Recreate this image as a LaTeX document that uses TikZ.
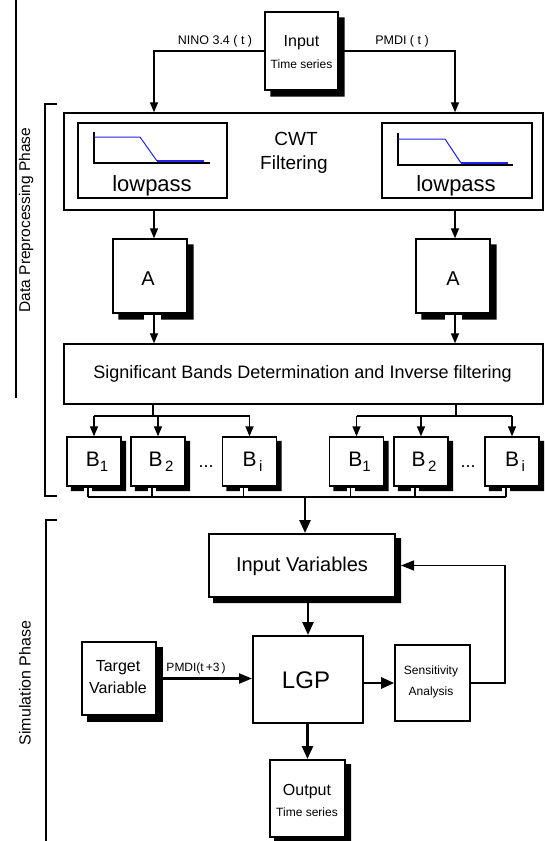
\documentclass[tikz,border=0pt]{standalone}
\usepackage{fontspec}
\setmainfont{Liberation Sans}
\usetikzlibrary{arrows.meta,calc}
\definecolor{lpblue}{RGB}{35,35,235}
% solid offset shadow on the right and lower side of a named node
\newcommand{\boxshadow}[2]{%
  \fill ($(#1.north east)+(-0.6,#2)$) -- ($(#1.north east)+(#2,#2)$)
    -- ($(#1.south east)+(#2,#2)$) -- ($(#1.south west)+(#2,#2)$)
    -- ($(#1.south west)+(#2,-0.6)$) -- ($(#1.south east)+(-0.6,-0.6)$) -- cycle;}
\begin{document}
\begin{tikzpicture}[x=1pt,y=-1pt,
  box/.style={draw, line width=1.4pt, fill=white, inner sep=0pt},
  lbl/.style={anchor=base, inner sep=0pt},
  fs/.style={font=\fontsize{#1}{#1}\selectfont},
  link/.style={line width=1.3pt},
  arr/.style={line width=1.3pt, -{Triangle[length=10pt,width=8pt]}},
  bigarr/.style={line width=2.6pt, -{Triangle[length=13pt,width=11pt]}},
  bstyle/.style={box, line width=1.3pt, minimum width=54pt, minimum height=49pt},
]
\useasboundingbox (0,0) rectangle (544,841);

% ---------- phase markers ----------
\draw[line width=1.3pt] (16,0) -- (16,398);
\node[fs=15.5, rotate=90] (phase1) at (26,220) {Data Preprocessing Phase};
\draw[line width=1.4pt] (57,104) -- (45,104) -- (45,496) -- (57,496);
\draw[line width=1.4pt] (57,520) -- (46,520) -- (46,841);
\node[fs=16, rotate=90] (phase2) at (25,683) {Simulation Phase};

% ---------- input time series ----------
\node[box, minimum width=73pt, minimum height=78pt] (inp) at (301.5,51) {};
\boxshadow{inp}{6}
\node[lbl, fs=16] (inpA) at (301.5,46) {Input};
\node[lbl, fs=12] (inpB) at (301.5,68) {Time series};

% ---------- CWT filtering ----------
\node[box, minimum width=479pt, minimum height=97pt] (cwt) at (303.5,161.5) {};
\node[box, minimum width=149pt, minimum height=75pt] (lpL) at (152.5,160.5) {};
\node[box, minimum width=150pt, minimum height=75pt] (lpR) at (457,160.5) {};
\node[lbl, fs=19] (cwtA) at (296,145) {CWT};
\node[lbl, fs=19] (cwtB) at (294,169) {Filtering};
\node[lbl, fs=22] (lpLt) at (152,191) {lowpass};
\node[lbl, fs=22] (lpRt) at (456,191) {lowpass};

% lowpass response sketches
\draw[line width=1.2pt] (94,132) -- (94,163) -- (210,163);
\draw[lpblue, line width=1pt] (94,137) -- (140,137) -- (157,161);
\draw[lpblue, line width=2pt] (157,161) -- (204,161);
\draw[line width=1.2pt] (398,133) -- (398,165) -- (513,165);
\draw[lpblue, line width=1pt] (398,139) -- (445,139) -- (461,163);
\draw[lpblue, line width=2pt] (461,163) -- (508,163);

% ---------- A blocks ----------
\node[box, minimum width=74pt, minimum height=74pt] (aL) at (150,276) {};
\node[box, minimum width=74pt, minimum height=74pt] (aR) at (453,276) {};
\boxshadow{aL}{6}
\boxshadow{aR}{6}
\node[lbl, fs=20] (aLt) at (148,285) {A};
\node[lbl, fs=20] (aRt) at (453,285) {A};

% ---------- band determination ----------
\node[box, minimum width=479pt, minimum height=60pt] (sig) at (303.5,374) {};
\node[lbl, fs=18] (sigt) at (302.5,378) {Significant Bands Determination and Inverse filtering};

% ---------- B blocks ----------
\node[bstyle] (bL1) at (94,461.5) {};
\node[bstyle] (bL2) at (158,461.5) {};
\node[bstyle] (bLi) at (249.5,461.5) {};
\node[bstyle] (bR1) at (356.5,461.5) {};
\node[bstyle] (bR2) at (421,461.5) {};
\node[bstyle] (bRi) at (512,461.5) {};
\foreach \b in {bL1,bL2,bLi,bR1,bR2,bRi} {\boxshadow{\b}{4.5}}
\foreach \b/\s/\g in {bL1/1/0pt, bL2/2/2.5pt, bLi/i/2.5pt, bR1/1/0pt, bR2/2/2.5pt, bRi/i/2.5pt}
  \node[lbl, fs=21] (\b t) at ($(\b.center)+(3,5)$)
    {B\kern\g\raisebox{-5pt}{\fontsize{15}{15}\selectfont \s}};
\node[lbl, fs=18] (dotsL) at (206,467) {...};
\node[lbl, fs=18] (dotsR) at (468,467) {...};

% ---------- simulation phase ----------
\node[box, line width=2pt, minimum width=186pt, minimum height=63pt] (iv) at (302,565.5) {};
\boxshadow{iv}{5}
\node[lbl, fs=20] (ivt) at (302,571) {Input Variables};

\node[box, line width=2pt, minimum width=110pt, minimum height=87pt] (lgp) at (308,679.5) {};
\node[lbl, fs=24] (lgpt) at (306,688) {LGP};

\node[box, line width=1.6pt, minimum width=74pt, minimum height=73pt] (tgt) at (119,678.5) {};
\boxshadow{tgt}{6}
\node[lbl, fs=16] (tgtA) at (118,671) {Target};
\node[lbl, fs=16] (tgtB) at (118,693) {Variable};

\node[box, line width=1.6pt, minimum width=75pt, minimum height=76pt] (sens) at (432.5,683) {};
\node[lbl, fs=12] (sensA) at (431,674) {Sensitivity};
\node[lbl, fs=12] (sensB) at (431,695) {Analysis};

\node[box, line width=2pt, minimum width=75pt, minimum height=77pt] (outp) at (307.5,798.5) {};
\boxshadow{outp}{5}
\node[lbl, fs=16] (outA) at (307,795) {Output};
\node[lbl, fs=12] (outB) at (307,816) {Time series};

% ---------- connectors: preprocessing ----------
\coordinate (lx) at (154,0);
\coordinate (rx) at (455,0);
\draw[arr] (inp.west) -| (lx |- cwt.north);
\draw[arr] (inp.east) -| (rx |- cwt.north);
\node[lbl, fs=12.5] (ninolbl) at (215,44.5) {NINO 3.4 ( t )};
\node[lbl, fs=12.5] (pmdilbl) at (402,44.5) {PMDI ( t )};

\draw[arr] (lx |- cwt.south) -- (lx |- aL.north);
\draw[arr] (rx |- cwt.south) -- (rx |- aR.north);
\fill[white] ($(lx |- aL.south)+(-10,1)$) rectangle ($(lx |- aL.south)+(7,9)$);
\fill[white] ($(rx |- aR.south)+(-10,1)$) rectangle ($(rx |- aR.south)+(7,9)$);
\draw[arr] (lx |- aL.south) -- (lx |- sig.north);
\draw[arr] (rx |- aR.south) -- (rx |- sig.north);

\coordinate (bry) at (0,416);
\coordinate (lsx) at (153,0);
\coordinate (rsx) at (456,0);
\draw[link] (lsx |- sig.south) -- (lsx |- bry);
\draw[link] (rsx |- sig.south) -- (rsx |- bry);
\draw[link] (bL1.north |- bry) -- (bLi.north |- bry);
\draw[link] (bR1.north |- bry) -- (bRi.north |- bry);
\foreach \b in {bL1,bL2,bLi,bR1,bR2,bRi}
  \draw[arr] (\b.north |- bry) -- (\b.north);

% collector under the B blocks
\coordinate (coly) at (0,497);
\foreach \b in {bL1,bL2,bLi,bR1,bR2,bRi} {
  \coordinate (\b s) at ($(\b.south)+(-6,0)$);
  \fill[white] ($(\b s)+(-4,1)$) rectangle ($(\b s)+(4,7)$);
  \draw[link] (\b s) -- (\b s |- coly);
}
\draw[link] (bL1s |- coly) -- (bRis |- coly);
\coordinate (mx) at (305,0);
\draw[bigarr] (mx |- coly) -- (mx |- iv.north);

% ---------- connectors: simulation ----------
\draw[bigarr] (lgp.north |- iv.south) -- (lgp.north);
\draw[line width=2.2pt, -{Triangle[length=13pt,width=10pt]}] (tgt.east) -- (tgt.east -| lgp.west);
\node[lbl, fs=12] (pmdi3) at (196,671) {PMDI(t\,+3\,)};
\draw[bigarr] (lgp.east |- sens.west) -- (sens.west);
\coordinate (fbx) at (505,0);
\draw[line width=1.3pt, -{Triangle[length=13pt,width=10pt]}]
  (sens.east) -- (sens.east -| fbx) |- ([xshift=5pt]iv.east);
\draw[bigarr] (outp.north |- lgp.south) -- (outp.north);
\end{tikzpicture}
\end{document}
